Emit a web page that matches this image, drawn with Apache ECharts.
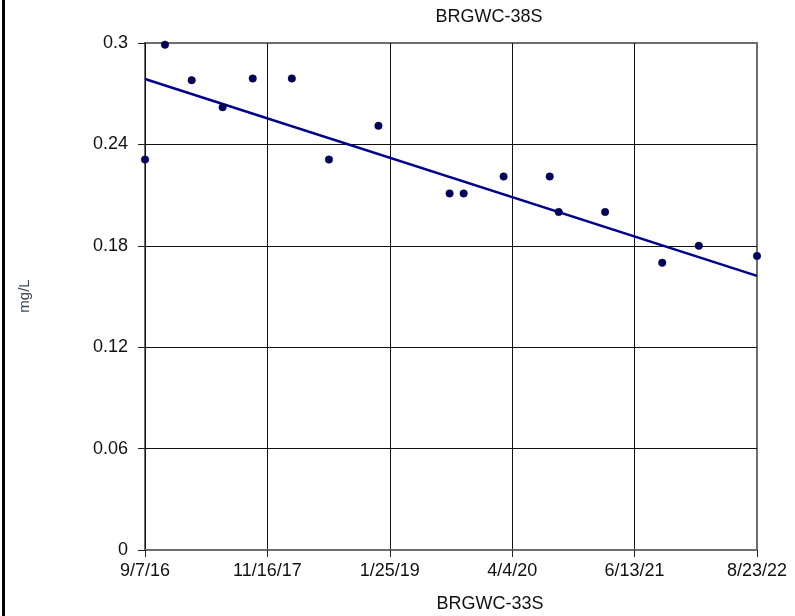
<!DOCTYPE html>
<html>
<head>
<meta charset="utf-8">
<script src="https://cdn.jsdelivr.net/npm/echarts@6/dist/echarts.min.js"></script>
<style>
html,body{margin:0;padding:0;background:#fff;}
#chart{width:795px;height:616px;}
</style>
</head>
<body>
<div id="chart"></div>
<script>
// ---- data ----
var chartTitle = 'BRGWC-38S';
var xAxisTitle = 'BRGWC-33S';
var yAxisTitle = 'mg/L';
var startDate = '2016-09-07';
var endDate = '2022-08-23';
var sampleDates = ['2016-09-07','2016-11-17','2017-02-20','2017-06-10','2017-09-25','2018-02-11','2018-06-23','2018-12-16','2019-08-26','2019-10-15','2020-03-05','2020-08-16','2020-09-17','2021-03-01','2021-09-20','2022-01-28','2022-08-23'];
var sampleValues = [0.231,0.299,0.278,0.262,0.279,0.279,0.231,0.251,0.211,0.211,0.221,0.221,0.200,0.200,0.170,0.180,0.174];
var trendDates = ['2016-09-07','2022-08-23'];
var trendValues = [0.2787,0.1622];
var xTickLabels = ['9/7/16','11/16/17','1/25/19','4/4/20','6/13/21','8/23/22'];
var yTickLabels = ['0','0.06','0.12','0.18','0.24','0.3'];
var yTickStep = 0.06;

function dayOffset(s){
  var a = s.split('-').map(Number), b = startDate.split('-').map(Number);
  return Math.round((Date.UTC(a[0],a[1]-1,a[2]) - Date.UTC(b[0],b[1]-1,b[2]))/86400000);
}
var xMax = dayOffset(endDate);
var xStep = xMax/(xTickLabels.length-1);
var scatterData = sampleDates.map(function(d,i){return [dayOffset(d), sampleValues[i]];});
var trendData = trendDates.map(function(d,i){return [dayOffset(d), trendValues[i]];});

var FONT = "'Liberation Sans', Arial, sans-serif";
var chart = echarts.init(document.getElementById('chart'), null, {renderer:'canvas'});
chart.setOption({
  animation:false,
  backgroundColor:'#fff',
  grid:{left:145,right:38,top:43,bottom:66,show:true,borderColor:'#6e6e6e',borderWidth:2,backgroundColor:'transparent'},
  xAxis:{
    type:'value', min:0, max:xMax, interval:xStep,
    axisLine:{show:true,onZero:false,lineStyle:{color:'#6e6e6e',width:2}},
    axisTick:{show:true,length:7,lineStyle:{color:'#222',width:1}},
    axisLabel:{margin:12,color:'#111',fontFamily:FONT,fontSize:18,
      formatter:function(v){return xTickLabels[Math.round(v/xStep)];}},
    splitLine:{show:true,showMinLine:false,showMaxLine:false,lineStyle:{color:'#111',width:1}}
  },
  yAxis:{
    type:'value', min:0, max:yTickStep*(yTickLabels.length-1), interval:yTickStep,
    axisLine:{show:true,lineStyle:{color:'#111',width:1}},
    axisTick:{show:true,length:7,lineStyle:{color:'#222',width:1}},
    axisLabel:{margin:17,color:'#111',fontFamily:FONT,fontSize:18,
      formatter:function(v){return yTickLabels[Math.round(v/yTickStep)];}},
    splitLine:{show:true,showMinLine:false,showMaxLine:false,lineStyle:{color:'#111',width:1}}
  },
  graphic:[
    {type:'rect',shape:{x:2,y:0,width:3,height:616},style:{fill:'#000'},silent:true},
    {type:'text',x:489,y:17,style:{text:chartTitle,fill:'#111',font:'18px '+FONT,textAlign:'center',textVerticalAlign:'middle'}},
    {type:'text',x:490,y:604,style:{text:xAxisTitle,fill:'#111',font:'18px '+FONT,textAlign:'center',textVerticalAlign:'middle'}},
    {type:'text',x:25,y:296,rotation:Math.PI/2,style:{text:yAxisTitle,fill:'#3a4a5a',font:'15px '+FONT,textAlign:'center',textVerticalAlign:'middle'}}
  ],
  series:[
    {type:'line',data:trendData,symbol:'none',lineStyle:{color:'#00008b',width:2.5},z:2},
    {type:'scatter',data:scatterData,symbol:'circle',symbolSize:7.5,clip:false,itemStyle:{color:'#000060',opacity:1,borderColor:'#000020',borderWidth:0.5},z:3}
  ]
});
</script>
</body>
</html>
